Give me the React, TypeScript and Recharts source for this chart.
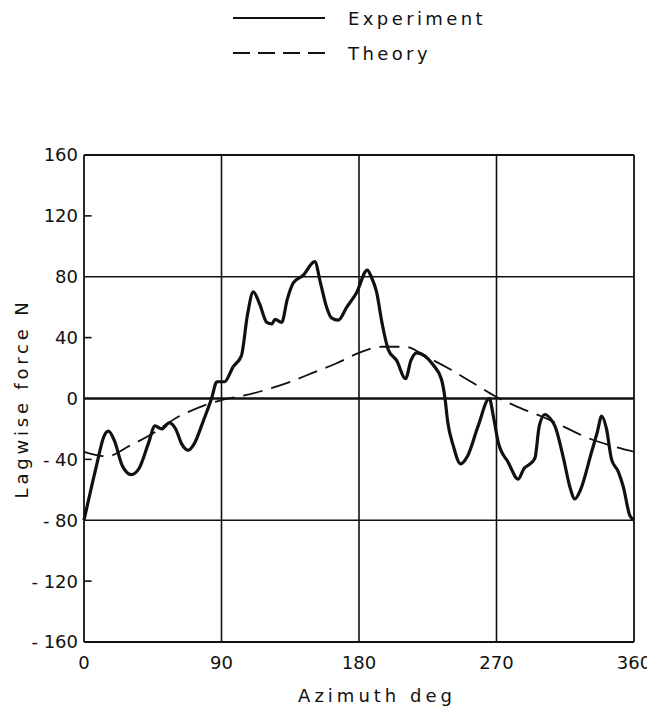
import React from "react";
import { LineChart, Line, XAxis, YAxis, ReferenceLine } from "recharts";

// Measured lagwise force (azimuth deg, force N)
const experimentAzimuth = [
  0, 8, 13, 16, 20, 25, 31, 36, 42, 46.5, 50.8, 55.8, 60, 64, 68.3, 72, 78, 83.5, 87, 92,
  97.7, 103, 107, 110.8, 115, 119.6, 123, 125, 129.4, 133, 137, 143.5, 151, 155, 158.8,
  162, 166.4, 172, 178.4, 185.4, 188, 191.5, 195, 199.2, 204.6, 210.5, 214, 217.7, 223,
  228.6, 234, 236.3, 238, 241.7, 246.5, 251, 258, 265.3, 268, 271.2, 277.7, 284.2, 288,
  292, 295.2, 298, 301.7, 305, 308.2, 314, 318, 321.3, 325, 332, 336, 338.8, 342, 345.3,
  349.7, 353, 357.3, 360,
];
const experimentForce = [
  -80, -45, -25, -21.5, -28, -44, -50, -46, -30, -18, -20, -16, -20, -30, -34, -30, -15, 0, 11, 11,
  21, 28, 55, 70, 62, 50, 49, 52, 50, 65, 76, 81, 90, 75, 60,
  53, 51.5, 60, 69.5, 84.4, 80, 70, 50, 32, 25, 13, 25, 30, 28,
  22, 12.5, 0, -15, -31, -43, -38, -18, 0, -12, -29, -42, -53, -46,
  -43, -39, -18, -10.5, -13, -18, -40, -58, -66, -60, -36, -22, -11.6, -20, -40,
  -48, -58, -77, -80,
];

// Predicted lagwise force
const theoryAzimuth = [0, 15, 30, 45, 60, 75, 90, 105, 120, 135, 150, 165, 180, 195, 210, 225, 240, 255, 270, 285, 300, 315, 330, 345, 360];
const theoryForce = [-35, -38, -31, -23, -13, -6, -1, 2, 6, 11, 17, 23, 30, 34, 34, 27, 19, 10, 1, -6, -12, -19, -26, -31, -35];

const xTicks = [0, 90, 180, 270, 360];
const yTicks = [160, 120, 80, 40, 0, -40, -80, -120, -160];
const gridX = [90, 180, 270];
const gridY = [80, -80];
const shortTicksY = [120, 40, -40, -120];

const seriesNames = ["Experiment", "Theory"];

const experimentData = experimentAzimuth.map((az, i) => ({ az, force: experimentForce[i] }));
const theoryData = theoryAzimuth.map((az, i) => ({ az, force: theoryForce[i] }));

const FONT = "'DejaVu Sans', sans-serif";
const INK = "#111";
const DASH = "20 9";
const W = 647;
const H = 698;

// Negative values are printed with a spaced minus sign, e.g. "- 40"
const formatForce = (v: number) => (v < 0 ? `- ${Math.abs(v)}` : `${v}`);

function Legend() {
  return (
    <svg width={W} height={80} style={{ position: "absolute", left: 0, top: 0 }}>
      {seriesNames.map((name, i) => {
        const y = 10 + i * 35;
        return (
          <g key={name}>
            <line x1={225} x2={317} y1={y} y2={y} stroke={INK} strokeWidth={2.2}
              strokeDasharray={i === 1 ? "17 8" : undefined} />
            <text x={340} y={y + 7} fontFamily={FONT} fontSize={18} letterSpacing={3.4} fill={INK}>
              {name}
            </text>
          </g>
        );
      })}
    </svg>
  );
}

export default function App() {
  return (
    <div style={{ position: "relative", width: W, height: H }}>
      <Legend />
      <LineChart width={W} height={H} margin={{ top: 147, right: 21, bottom: 0, left: 16 }}>
        <XAxis
          type="number"
          dataKey="az"
          domain={[0, 360]}
          ticks={xTicks}
          tickLine={false}
          axisLine={false}
          height={64}
          tickMargin={8}
          tick={{ fontFamily: FONT, fontSize: 18, fill: INK }}
          label={{ value: "Azimuth deg", position: "insideBottom", offset: 4, dx: 18, fontFamily: FONT, fontSize: 18, fill: INK, letterSpacing: 4 }}
          allowDuplicatedCategory={false}
        />
        <YAxis
          type="number"
          domain={[-160, 160]}
          ticks={yTicks}
          tickLine={false}
          axisLine={false}
          width={60}
          tickMargin={0}
          tickFormatter={formatForce}
          tick={{ fontFamily: FONT, fontSize: 18, fill: INK }}
          label={{ value: "Lagwise force N", angle: -90, position: "insideLeft", offset: 0, dx: -2, fontFamily: FONT, fontSize: 18, fill: INK, letterSpacing: 3.8, style: { textAnchor: "middle" } }}
        />
        {gridX.map((x) => (
          <ReferenceLine key={"gx" + x} x={x} stroke={INK} strokeWidth={1.6} />
        ))}
        {gridY.map((y) => (
          <ReferenceLine key={"gy" + y} y={y} stroke={INK} strokeWidth={1.6} />
        ))}
        <ReferenceLine y={0} stroke={INK} strokeWidth={2.6} />
        {shortTicksY.map((y) => (
          <ReferenceLine key={"ty" + y} segment={[{ x: 0, y }, { x: 5, y }]} stroke={INK} strokeWidth={1.6} />
        ))}
        <ReferenceLine y={160} stroke={INK} strokeWidth={1.8} />
        <ReferenceLine y={-160} stroke={INK} strokeWidth={1.8} />
        <ReferenceLine x={0} stroke={INK} strokeWidth={1.8} />
        <ReferenceLine x={360} stroke={INK} strokeWidth={1.8} />
        <Line
          data={theoryData}
          dataKey="force"
          name={seriesNames[1]}
          type="monotone"
          stroke={INK}
          strokeWidth={1.8}
          strokeDasharray={DASH}
          dot={false}
          isAnimationActive={false}
        />
        <Line
          data={experimentData}
          dataKey="force"
          name={seriesNames[0]}
          type="monotone"
          stroke={INK}
          strokeWidth={3.2}
          dot={false}
          isAnimationActive={false}
        />
      </LineChart>
    </div>
  );
}
